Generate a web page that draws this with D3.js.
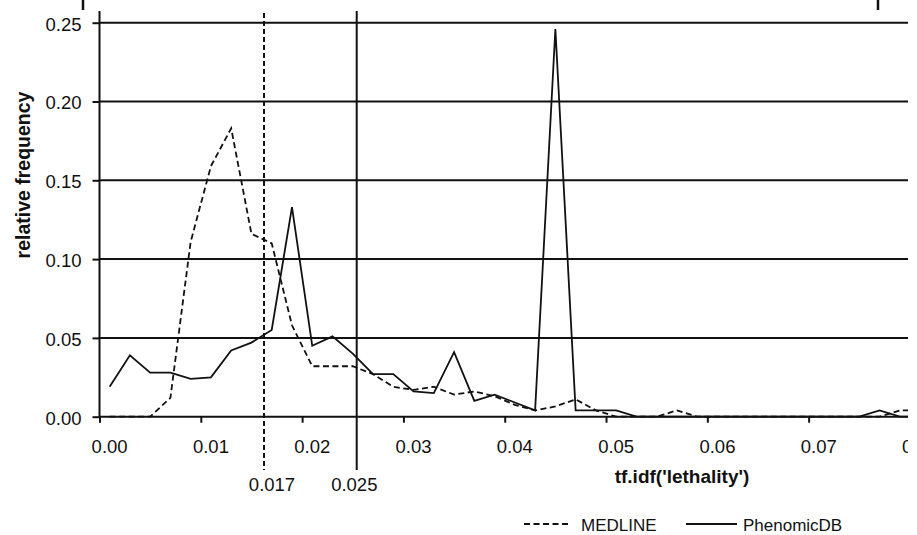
<!DOCTYPE html>
<html>
<head>
<meta charset="utf-8">
<script src="https://cdn.jsdelivr.net/npm/d3@7"></script>
<style>
  body { margin: 0; background: #fff; }
  svg { overflow: hidden; font-family: "Liberation Sans", Arial, sans-serif; }
</style>
</head>
<body>
<div id="vis"></div>
<script>
// bins of tf.idf (category axis, one point per bin)
const bins = [0.000, 0.002, 0.004, 0.006, 0.008, 0.010, 0.012, 0.014, 0.016, 0.018,
              0.020, 0.022, 0.024, 0.026, 0.028, 0.030, 0.032, 0.034, 0.036, 0.038,
              0.040, 0.042, 0.044, 0.046, 0.048, 0.050, 0.052, 0.054, 0.056, 0.058,
              0.060, 0.062, 0.064, 0.066, 0.068, 0.070, 0.072, 0.074, 0.076, 0.078, 0.080];

// relative frequency, MEDLINE (dashed)
const medline = [0, 0, 0, 0.012, 0.111, 0.159, 0.183, 0.116, 0.110, 0.058,
                 0.032, 0.032, 0.032, 0.027, 0.019, 0.017, 0.019, 0.014, 0.016, 0.013,
                 0.0075, 0.004, 0.0065, 0.011, 0.004, 0, 0, 0, 0.004, 0,
                 0, 0, 0, 0, 0, 0, 0, 0, 0, 0.004, 0.004];

// relative frequency, PhenomicDB (solid)
const phenomic = [0.019, 0.039, 0.028, 0.028, 0.024, 0.025, 0.042, 0.047, 0.055, 0.133,
                  0.045, 0.051, 0.040, 0.027, 0.027, 0.016, 0.015, 0.041, 0.010, 0.014,
                  0.009, 0.004, 0.246, 0.004, 0.004, 0.004, 0, 0, 0, 0,
                  0, 0, 0, 0, 0, 0, 0, 0, 0.004, 0, 0];

const yTicks = [0, 0.05, 0.10, 0.15, 0.20, 0.25];
const xLabels = [0, 0.01, 0.02, 0.03, 0.04, 0.05, 0.06, 0.07, 0.08];
// tick marks sit between categories (half a bin before each label)
const xTickMarks = [-0.001, 0.009, 0.019, 0.029, 0.039, 0.049, 0.059, 0.069, 0.079];

// threshold lines: where the line is drawn and where its label sits
const refLines = [
  { label: "0.017", at: 0.01524, labelAt: 0.01603, dashed: true },
  { label: "0.025", at: 0.02439, labelAt: 0.02415, dashed: false }
];

const legendItems = [
  { name: "MEDLINE", dashed: true },
  { name: "PhenomicDB", dashed: false }
];

const WIDTH = 908;   // the picture is cut at the right edge
const HEIGHT = 535;
const PLOT_TOP = 11;
const INK = "#111";

const SVG = d3.select("#vis").append("svg")
  .attr("width", WIDTH)
  .attr("height", HEIGHT);

const x = d3.scaleLinear().domain([-0.001, 0.081]).range([99.5, 930.2]);
const y = d3.scaleLinear().domain([0, 0.25]).range([416.7, 22.7]);

// horizontal gridlines
SVG.append("g").selectAll("line")
  .data(yTicks)
  .join("line")
  .attr("x1", x(-0.001)).attr("x2", x(0.081))
  .attr("y1", d => y(d)).attr("y2", d => y(d))
  .attr("stroke", INK).attr("stroke-width", 2);

// y axis
const ejeY = d3.axisLeft(y).tickValues(yTicks).tickSize(7).tickSizeOuter(0)
  .tickPadding(11).tickFormat(d3.format(".2f"));
const gy = SVG.append("g").attr("transform", `translate(${x(-0.001)},0)`).call(ejeY);
gy.select(".domain").remove();
gy.selectAll("line").attr("stroke", INK).attr("stroke-width", 2);
gy.selectAll("text").attr("font-size", 18.5).attr("fill", INK).attr("dy", "0.4em")
  .attr("font-family", "Liberation Sans, Arial, sans-serif");

SVG.append("line")
  .attr("x1", x(-0.001)).attr("x2", x(-0.001))
  .attr("y1", PLOT_TOP).attr("y2", y(0))
  .attr("stroke", INK).attr("stroke-width", 2);

// x axis tick marks
const ejeX = d3.axisBottom(x).tickValues(xTickMarks).tickSize(6).tickSizeOuter(0).tickFormat("");
const gx = SVG.append("g").attr("transform", `translate(0,${y(0)})`).call(ejeX);
gx.select(".domain").remove();
gx.selectAll("line").attr("stroke", INK).attr("stroke-width", 2);

// x labels centred on their category
SVG.append("g").selectAll("text")
  .data(xLabels)
  .join("text")
  .attr("x", d => x(d))
  .attr("y", 453)
  .attr("text-anchor", "middle")
  .attr("font-size", 18.5)
  .attr("fill", INK)
  .text(d => d3.format(".2f")(d));

// threshold lines
refLines.forEach(r => {
  SVG.append("line")
    .attr("x1", x(r.at)).attr("x2", x(r.at))
    .attr("y1", PLOT_TOP + (r.dashed ? 2 : 0)).attr("y2", 470)
    .attr("stroke", INK).attr("stroke-width", 2)
    .attr("stroke-dasharray", r.dashed ? "5,3" : null);
  SVG.append("text")
    .attr("x", x(r.labelAt)).attr("y", 491)
    .attr("text-anchor", "middle")
    .attr("font-size", 18.5).attr("fill", INK)
    .text(r.label);
});

// series
const linea = d3.line().x((d, i) => x(bins[i])).y(d => y(d));

SVG.append("path")
  .datum(medline)
  .attr("d", linea)
  .attr("fill", "none").attr("stroke", INK).attr("stroke-width", 1.8)
  .attr("stroke-dasharray", "6,3.5");

SVG.append("path")
  .datum(phenomic)
  .attr("d", linea)
  .attr("fill", "none").attr("stroke", INK).attr("stroke-width", 1.8)
  .attr("stroke-linejoin", "miter");

// axis titles
SVG.append("text")
  .attr("x", 682).attr("y", 483)
  .attr("text-anchor", "middle")
  .attr("font-size", 19).attr("font-weight", "bold").attr("fill", INK)
  .text("tf.idf('lethality')");

SVG.append("text")
  .attr("transform", "translate(30,175) rotate(-90)")
  .attr("text-anchor", "middle")
  .attr("font-size", 19.5).attr("font-weight", "bold").attr("fill", INK)
  .text("relative frequency");

// legend
const legendX = [524, 686];
const legendLen = [46, 51];
const legendG = SVG.append("g");
legendItems.forEach((d, i) => {
  legendG.append("line")
    .attr("x1", legendX[i]).attr("x2", legendX[i] + legendLen[i])
    .attr("y1", 524).attr("y2", 524)
    .attr("stroke", INK).attr("stroke-width", 1.8)
    .attr("stroke-dasharray", d.dashed ? "6,3.5" : null);
  legendG.append("text")
    .attr("x", legendX[i] + legendLen[i] + (d.dashed ? 11 : 6))
    .attr("y", 531)
    .attr("font-size", 17).attr("fill", INK)
    .text(d.name);
});

// small marks left over at the top edge of the figure
[83, 878].forEach(px => {
  SVG.append("line")
    .attr("x1", px).attr("x2", px).attr("y1", 0).attr("y2", 10)
    .attr("stroke", INK).attr("stroke-width", 2.5);
});
</script>
</body>
</html>
